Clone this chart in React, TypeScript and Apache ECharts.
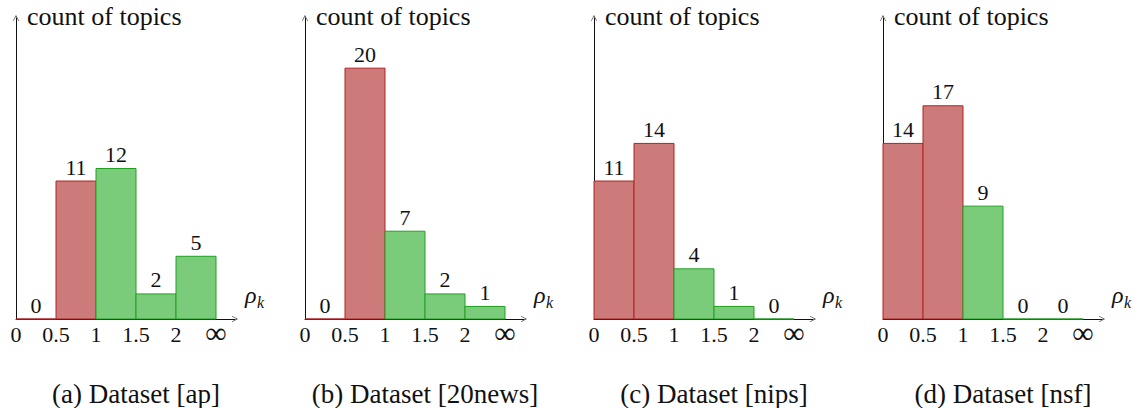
import React, { useEffect, useRef } from "react";
import * as echarts from "echarts";

// ---- data ----
const binEdgeLabels = ["0", "0.5", "1", "1.5", "2", "∞"];
const binUpperRho = [0.5, 1, 1.5, 2, Infinity];
const panelTitles = ["(a) Dataset [ap]", "(b) Dataset [20news]", "(c) Dataset [nips]", "(d) Dataset [nsf]"];
const countsAp = [0, 11, 12, 2, 5];
const counts20news = [0, 20, 7, 2, 1];
const countsNips = [11, 14, 4, 1, 0];
const countsNsf = [14, 17, 9, 0, 0];
const panelCounts = [countsAp, counts20news, countsNips, countsNsf];
const yMax = 24;

const FONT = "Liberation Serif";
const RED_FILL = "#CC7A7A";
const RED_LINE = "#B22222";
const GREEN_FILL = "#7ACC7A";
const GREEN_LINE = "#22A022";
const INK = "#111";

export default function App() {
  const ref = useRef<HTMLDivElement>(null);
  useEffect(() => {
    document.body.style.margin = "0";
    const chart = echarts.init(ref.current!, null, { renderer: "svg" });
    const panelStep = 289;
    const axisLeft0 = 16;
    const gridTop = 18;
    const gridHeight = 301;
    const gridWidth = 219;
    const xMax = gridWidth / 40;

    const grids: any[] = [];
    const xAxes: any[] = [];
    const yAxes: any[] = [];
    const series: any[] = [];
    const graphics: any[] = [];

    const arrowSym = "path://M0,10 L5,0 L10,10 L9.2,10 L5,2 L0.8,10 Z";

    panelCounts.forEach((counts, p) => {
      const left = axisLeft0 + p * panelStep;
      grids.push({ left, top: gridTop, width: gridWidth, height: gridHeight });
      xAxes.push({
        gridIndex: p,
        type: "value",
        min: 0,
        max: xMax,
        interval: 1,
        axisLine: {
          show: true,
          lineStyle: { color: INK, width: 1 },
          symbol: ["none", arrowSym],
          symbolSize: [9, 6],
        },
        axisTick: { show: false },
        splitLine: { show: false },
        axisLabel: {
          show: true,
          margin: 4,
          fontFamily: FONT,
          fontSize: 22,
          color: INK,
          showMaxLabel: false,
          formatter: (v: number) => {
            const i = Math.round(v);
            if (Math.abs(v - i) > 1e-6 || i < 0 || i >= binEdgeLabels.length) return "";
            return binEdgeLabels[i] === "∞" ? "{inf|∞}" : binEdgeLabels[i];
          },
          rich: { inf: { fontFamily: FONT, fontSize: 30, lineHeight: 18, color: INK } },
        },
      });
      yAxes.push({
        gridIndex: p,
        type: "value",
        min: 0,
        max: yMax,
        axisLine: {
          show: true,
          lineStyle: { color: INK, width: 1 },
          symbol: ["none", arrowSym],
          symbolSize: [9, 6],
        },
        axisTick: { show: false },
        axisLabel: { show: false },
        splitLine: { show: false },
      });
      series.push({
        type: "custom",
        xAxisIndex: p,
        yAxisIndex: p,
        data: counts.map((c, i) => [i, i + 1, c, binUpperRho[i] <= 1 ? 1 : 0]),
        renderItem: (params: any, api: any) => {
          const x0 = api.value(0);
          const x1 = api.value(1);
          const v = api.value(2);
          const red = api.value(3) === 1;
          const a = api.coord([x0, 0]);
          const b = api.coord([x1, v]);
          return {
            type: "group",
            children: [
              {
                type: "rect",
                shape: { x: a[0], y: b[1], width: b[0] - a[0], height: a[1] - b[1] },
                style: {
                  fill: red ? RED_FILL : GREEN_FILL,
                  stroke: red ? RED_LINE : GREEN_LINE,
                  lineWidth: 1,
                },
              },
              {
                type: "text",
                x: (a[0] + b[0]) / 2,
                y: b[1] - 3,
                style: {
                  text: String(v),
                  fontFamily: FONT,
                  fontSize: 22,
                  fill: INK,
                  align: "center",
                  verticalAlign: "bottom",
                },
              },
            ],
          };
        },
      });
      graphics.push({
        type: "text",
        x: left + 11,
        y: 16,
        style: { text: "count of topics", fontFamily: FONT, fontSize: 26, fill: INK, verticalAlign: "middle" },
      });
      graphics.push({
        type: "text",
        x: left + 229,
        y: 295,
        style: { text: "ρ", fontFamily: FONT, fontStyle: "italic", fontSize: 24, fill: INK, verticalAlign: "middle" },
      });
      graphics.push({
        type: "text",
        x: left + 241,
        y: 302.5,
        style: { text: "k", fontFamily: FONT, fontStyle: "italic", fontSize: 16, fill: INK, verticalAlign: "middle" },
      });
      graphics.push({
        type: "text",
        x: left + 120,
        y: 394,
        style: {
          text: panelTitles[p],
          fontFamily: FONT,
          fontSize: 27,
          fill: INK,
          align: "center",
          verticalAlign: "middle",
        },
      });
    });

    chart.setOption({
      animation: false,
      backgroundColor: "#fff",
      textStyle: { fontFamily: FONT },
      grid: grids,
      xAxis: xAxes,
      yAxis: yAxes,
      series,
      graphic: graphics,
    });
    return () => chart.dispose();
  }, []);
  return <div ref={ref} style={{ width: 1139, height: 408 }} />;
}
